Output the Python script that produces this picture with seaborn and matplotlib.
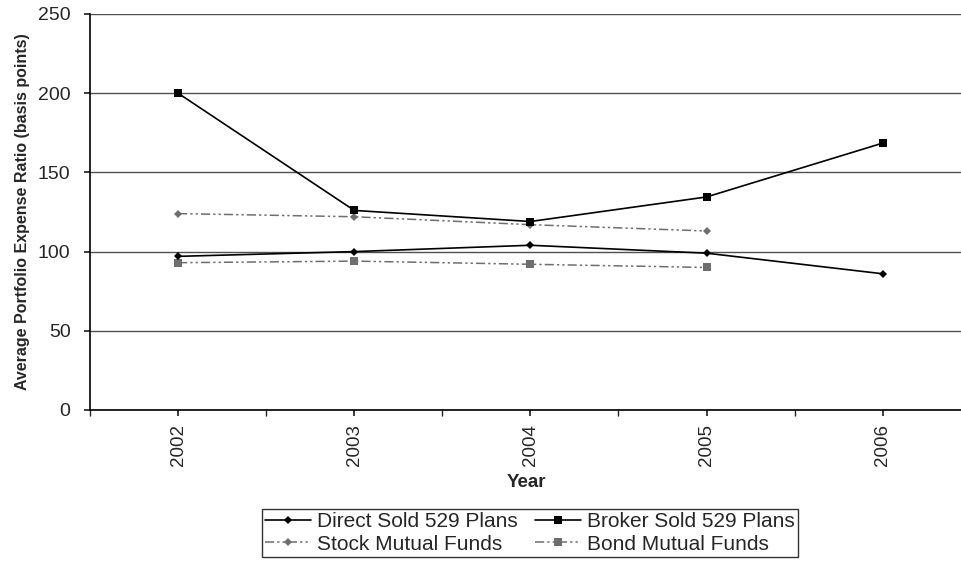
import matplotlib
matplotlib.use("Agg")
import matplotlib.pyplot as plt
import seaborn as sns
import pandas as pd
import numpy as np

years = [2002, 2003, 2004, 2005, 2006]
direct_sold = [97, 100, 104, 99, 86]
broker_sold = [200, 126, 119, 134.5, 168.5]
stock_funds = [124, 122, 117, 113]
bond_funds = [93, 94, 92, 90]

sns.set_theme(style="white")
plt.rcParams['font.family'] = ['Liberation Sans', 'DejaVu Sans']

fig = plt.figure(figsize=(9.62, 5.61), dpi=100)
ax = fig.add_axes([90/962, 1 - 410/561, (962 - 90)/962, (410 - 14)/561])

df_direct = pd.DataFrame({"Year": years, "Value": direct_sold})
df_broker = pd.DataFrame({"Year": years, "Value": broker_sold})
df_stock = pd.DataFrame({"Year": years[:4], "Value": stock_funds})
df_bond = pd.DataFrame({"Year": years[:4], "Value": bond_funds})

dash = (6, 2, 1.5, 2, 1.5, 2)
sns.lineplot(data=df_stock, x="Year", y="Value", ax=ax, color="#6e6e6e", lw=1.1,
             marker="D", markersize=4.5, markeredgewidth=0,
             label="Stock Mutual Funds", zorder=3)
ax.lines[-1].set_dashes(dash)
sns.lineplot(data=df_bond, x="Year", y="Value", ax=ax, color="#6e6e6e", lw=1.1,
             marker="s", markersize=6, markeredgewidth=0,
             label="Bond Mutual Funds", zorder=3)
ax.lines[-1].set_dashes(dash)
sns.lineplot(data=df_direct, x="Year", y="Value", ax=ax, color="black", lw=1.2,
             marker="D", markersize=4.5, markeredgewidth=0,
             label="Direct Sold 529 Plans", zorder=4)
sns.lineplot(data=df_broker, x="Year", y="Value", ax=ax, color="black", lw=1.2,
             marker="s", markersize=6, markeredgewidth=0,
             label="Broker Sold 529 Plans", zorder=4)

ax.set_xlim(2001.5, 2006.45)
ax.set_ylim(0, 250)
ax.set_yticks([0, 50, 100, 150, 200, 250])
ax.set_xticks(years)
ax.set_xticks([y + 0.5 for y in [2001, 2002, 2003, 2004, 2005]], minor=True)
ax.set_xticklabels([str(y) for y in years], rotation=90, fontsize=13.5)
ax.tick_params(axis='y', labelsize=14, length=4, direction='out', left=True, pad=10)
ax.tick_params(axis='x', which='both', length=4, direction='out', bottom=True, pad=6)
ax.grid(axis='y', color='#505050', lw=1.0)
ax.set_axisbelow(True)
for s in ['top', 'right']:
    ax.spines[s].set_visible(False)
for s in ['left', 'bottom']:
    ax.spines[s].set_color('black')
    ax.spines[s].set_linewidth(1.2)

ax.set_xlabel("Year", fontsize=13.5, fontweight='bold', labelpad=6)
ax.set_ylabel("Average Portfolio Expense Ratio (basis points)", fontsize=11.5, fontweight='bold', labelpad=6)

ax.get_legend().remove()
handles, labels = ax.get_legend_handles_labels()
order = ["Direct Sold 529 Plans", "Stock Mutual Funds", "Broker Sold 529 Plans", "Bond Mutual Funds"]
hmap = dict(zip(labels, handles))
leg = fig.legend([hmap[l] for l in order], order, ncol=2, loc='center',
                 bbox_to_anchor=(530/962, 1 - 533/561), fontsize=15,
                 frameon=True, fancybox=False, edgecolor='black',
                 handlelength=2.2, handletextpad=0.3, columnspacing=0.8,
                 borderpad=0.15, labelspacing=0.15, borderaxespad=0)
leg.get_frame().set_linewidth(1.0)

fig.savefig("out.png", dpi=100)
